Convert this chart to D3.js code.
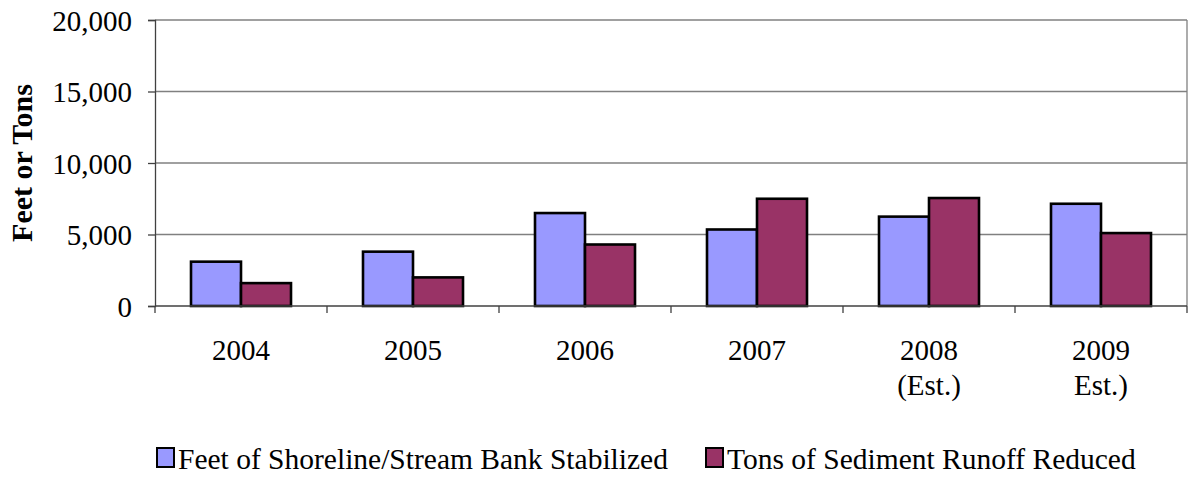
<!DOCTYPE html>
<html>
<head>
<meta charset="utf-8">
<script src="https://cdn.jsdelivr.net/npm/d3@7"></script>
<style>
  body { margin: 0; background: #fff; }
  text { font-family: "Liberation Serif", "Times New Roman", serif; fill: #000; }
</style>
</head>
<body>
<div id="chart"></div>
<script>
var years = [["2004"], ["2005"], ["2006"], ["2007"], ["2008", "(Est.)"], ["2009", "Est.)"]];
var seriesNames = ["Feet of Shoreline/Stream Bank Stabilized", "Tons of Sediment Runoff Reduced"];
var feet = [3100, 3800, 6500, 5350, 6250, 7150];
var tons = [1600, 2000, 4300, 7500, 7550, 5100];
var yTicks = [0, 5000, 10000, 15000, 20000];
var colors = ["#9999ff", "#993366"];

var W = 1188, H = 477;
var margin = { top: 20, right: 1, bottom: 171, left: 155 };
var width = W - margin.left - margin.right,
  height = H - margin.top - margin.bottom;

var svg = d3.select("#chart").append("svg")
  .attr("width", W).attr("height", H);
var g = svg.append("g")
  .attr("transform", "translate(" + margin.left + "," + margin.top + ")");

var x = d3.scaleBand().domain(d3.range(years.length)).range([0, width]).paddingInner(0).paddingOuter(0);
var x1 = d3.scaleBand().domain([0, 1]).range([0, x.bandwidth()]).paddingOuter(0.72).paddingInner(0);
var y = d3.scaleLinear().domain([0, 20000]).range([height, 0]);

// gridlines
g.selectAll(".grid").data(yTicks.slice(1)).enter().append("line")
  .attr("x1", 0).attr("x2", width)
  .attr("y1", function(d) { return y(d); }).attr("y2", function(d) { return y(d); })
  .attr("stroke", "#808080").attr("stroke-width", 1.3);

// right border of plot area
g.append("line").attr("x1", width).attr("x2", width).attr("y1", 0).attr("y2", height)
  .attr("stroke", "#808080").attr("stroke-width", 1.3);

// bars
var rows = years.map(function(d, i) { return [feet[i], tons[i]]; });
var groups = g.selectAll(".grp").data(rows).enter().append("g")
  .attr("transform", function(d, i) { return "translate(" + x(i) + ",0)"; });
groups.selectAll("rect").data(function(d) { return d; }).enter().append("rect")
  .attr("x", function(d, j) { return x1(j); })
  .attr("width", x1.bandwidth())
  .attr("y", function(d) { return y(d); })
  .attr("height", function(d) { return height - y(d); })
  .attr("fill", function(d, j) { return colors[j]; })
  .attr("stroke", "#000").attr("stroke-width", 2.6);

// y axis
var yAxis = d3.axisLeft(y).tickValues(yTicks).tickSize(7).tickPadding(16)
  .tickFormat(d3.format(","));
var ya = g.append("g").call(yAxis);
ya.select(".domain").attr("stroke", "#404040").attr("stroke-width", 1.3);
ya.selectAll(".tick line").attr("stroke", "#404040").attr("stroke-width", 1.3);
ya.selectAll(".tick text").style("font-size", "29px").attr("dy", "0.35em");

// x axis
var xa = g.append("g").attr("transform", "translate(0," + height + ")");
xa.append("line").attr("x1", 0).attr("x2", width).attr("stroke", "#404040").attr("stroke-width", 1.3);
xa.selectAll(".xt").data(d3.range(years.length + 1)).enter().append("line")
  .attr("x1", function(d) { return d * x.bandwidth(); })
  .attr("x2", function(d) { return d * x.bandwidth(); })
  .attr("y1", 0).attr("y2", 7)
  .attr("stroke", "#404040").attr("stroke-width", 1.3);
var lbl = xa.selectAll(".xl").data(years).enter().append("text")
  .attr("text-anchor", "middle")
  .attr("transform", function(d, i) { return "translate(" + (x(i) + x.bandwidth() / 2) + ",0)"; })
  .style("font-size", "29px");
lbl.selectAll("tspan").data(function(d) { return d; }).enter().append("tspan")
  .attr("x", 0).attr("y", function(d, k) { return 54 + k * 35; })
  .text(function(d) { return d; });

// y title
svg.append("text")
  .attr("transform", "translate(32," + (margin.top + height / 2) + ") rotate(-90)")
  .attr("text-anchor", "middle")
  .style("font-size", "30px").style("font-weight", "bold")
  .text("Feet or Tons");

// legend
var legendX = [157, 706];
var leg = svg.selectAll(".leg").data(seriesNames).enter().append("g")
  .attr("transform", function(d, i) { return "translate(" + legendX[i] + ",448)"; });
leg.append("rect").attr("width", 17).attr("height", 19)
  .attr("fill", function(d, i) { return colors[i]; })
  .attr("stroke", "#000").attr("stroke-width", 2);
leg.append("text").attr("x", 21).attr("y", 21)
  .style("font-size", "29.5px")
  .text(function(d) { return d; });
</script>
</body>
</html>
